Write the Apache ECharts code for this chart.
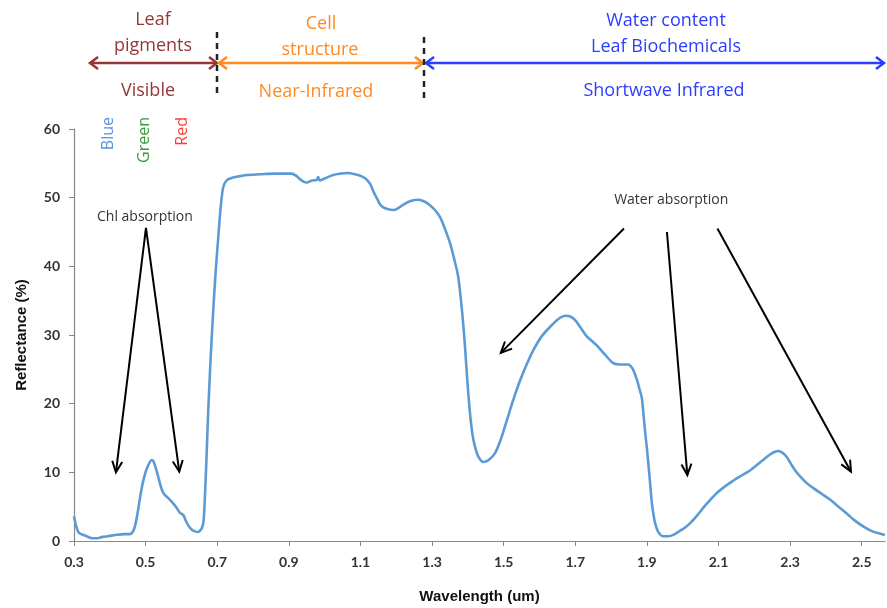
<!DOCTYPE html>
<html>
<head>
<meta charset="utf-8">
<script src="https://cdn.jsdelivr.net/npm/echarts@6/dist/echarts.min.js"></script>
<style>html,body{margin:0;padding:0;background:#fff}#c{width:887px;height:608px}</style>
</head>
<body>
<div id="c"></div>
<script>
// Wavelength (um) and reflectance (%)
var wavelengths = [0.300,0.305,0.312,0.320,0.335,0.350,0.365,0.380,0.395,0.420,0.440,0.456,0.464,0.470,0.476,0.482,0.488,0.494,0.501,0.508,0.517,0.522,0.528,0.534,0.540,0.546,0.552,0.560,0.568,0.578,0.587,0.596,0.605,0.612,0.620,0.630,0.638,0.646,0.652,0.658,0.662,0.666,0.670,0.675,0.682,0.689,0.696,0.703,0.710,0.717,0.726,0.736,0.760,0.782,0.820,0.860,0.908,0.920,0.931,0.942,0.950,0.965,0.978,0.982,0.986,1.000,1.024,1.045,1.062,1.085,1.108,1.118,1.127,1.137,1.146,1.155,1.164,1.178,1.192,1.206,1.220,1.240,1.262,1.280,1.294,1.308,1.322,1.335,1.350,1.364,1.372,1.378,1.385,1.392,1.399,1.406,1.413,1.420,1.430,1.443,1.458,1.476,1.492,1.509,1.527,1.546,1.565,1.583,1.606,1.630,1.652,1.672,1.686,1.699,1.716,1.732,1.745,1.760,1.782,1.806,1.825,1.848,1.856,1.862,1.872,1.880,1.886,1.893,1.900,1.904,1.909,1.914,1.918,1.923,1.932,1.946,1.960,1.974,1.990,2.005,2.021,2.040,2.060,2.077,2.100,2.133,2.160,2.189,2.215,2.244,2.258,2.267,2.280,2.291,2.305,2.318,2.328,2.345,2.365,2.390,2.412,2.435,2.458,2.480,2.505,2.530,2.556,2.565];
var reflectance = [3.6,2.4,1.3,1.0,0.7,0.4,0.4,0.6,0.7,0.9,1.0,1.0,1.3,2.1,3.6,5.5,7.4,8.9,10.2,11.1,11.8,11.6,10.7,9.6,8.4,7.4,6.8,6.4,6.0,5.4,4.8,4.1,3.8,3.0,2.2,1.6,1.4,1.3,1.5,2.0,3.0,6.9,12.0,19.1,27.0,33.7,39.5,44.3,48.8,51.6,52.5,52.8,53.1,53.3,53.4,53.5,53.5,53.2,52.7,52.3,52.2,52.5,52.6,53.0,52.5,52.8,53.3,53.5,53.6,53.4,53.0,52.6,52.0,50.8,49.9,49.0,48.6,48.3,48.2,48.5,49.0,49.5,49.7,49.4,48.9,48.2,47.2,45.6,43.4,40.6,38.8,36.4,32.8,28.3,23.0,18.6,15.5,13.7,12.2,11.5,11.8,12.8,14.8,17.6,20.6,23.4,25.8,27.8,29.8,31.2,32.3,32.8,32.7,32.2,31.0,29.8,29.2,28.5,27.2,25.9,25.7,25.7,25.4,24.9,23.5,22.0,20.8,17.0,13.5,11.3,8.4,5.5,4.0,2.6,1.3,0.7,0.7,0.9,1.4,1.9,2.6,3.7,5.0,6.0,7.2,8.5,9.4,10.3,11.4,12.6,13.0,13.1,12.8,12.2,11.0,10.0,9.4,8.5,7.7,6.8,6.0,5.0,4.0,3.0,2.1,1.4,1.0,0.9];
var xStart = 0.3, xEnd = 2.565, xStep = 0.2;
var yTicks = [0, 60, 10];

var chart = echarts.init(document.getElementById('c'));
var seriesData = wavelengths.map(function (w, i) { return [w - xStart, reflectance[i]]; });

chart.setOption({
  animation: false,
  grid: { left: 74, right: 2, top: 129, bottom: 67, containLabel: false, outerBoundsMode: 'none' },
  xAxis: {
    type: 'value', min: 0, max: xEnd - xStart, interval: xStep,
    name: 'Wavelength (um)', nameLocation: 'middle', nameGap: 48,
    nameTextStyle: { fontFamily: 'Liberation Sans', fontWeight: 'bold', fontSize: 15, color: '#111' },
    axisLine: { show: true, lineStyle: { color: '#888', width: 1.2 } },
    axisTick: { show: true, length: 5, lineStyle: { color: '#888' } },
    splitLine: { show: false },
    axisLabel: {
      margin: 14, fontFamily: 'Lato', fontWeight: 'bold', fontSize: 14, color: '#333',
      showMaxLabel: false,
      formatter: function (v) {
        var k = v / xStep;
        if (Math.abs(k - Math.round(k)) > 1e-6) return '';
        return (v + xStart).toFixed(1);
      }
    }
  },
  yAxis: {
    type: 'value', min: yTicks[0], max: yTicks[1], interval: yTicks[2],
    name: 'Reflectance (%)', nameLocation: 'middle', nameGap: 45, nameRotate: 90,
    nameTextStyle: { fontFamily: 'Liberation Sans', fontWeight: 'bold', fontSize: 15, color: '#111' },
    axisLine: { show: true, lineStyle: { color: '#888', width: 1.2 } },
    axisTick: { show: true, length: 5, lineStyle: { color: '#888' } },
    splitLine: { show: false },
    axisLabel: { margin: 14, fontFamily: 'Lato', fontWeight: 'bold', fontSize: 14, color: '#333' }
  },
  series: [{
    type: 'line', data: seriesData, showSymbol: false, smooth: 0.3,
    lineStyle: { color: '#5B9BD5', width: 2.6 }
  }]
});

function px(x, y) { return chart.convertToPixel({ gridIndex: 0 }, [x - xStart, y]); }

function arrowEls(p1, p2, color, width, head, hw, both) {
  var els = [{ type: 'line', shape: { x1: p1[0], y1: p1[1], x2: p2[0], y2: p2[1] }, style: { stroke: color, lineWidth: width }, z: 100 }];
  function headAt(a, b) {
    var dx = b[0] - a[0], dy = b[1] - a[1], L = Math.sqrt(dx * dx + dy * dy);
    var ux = dx / L, uy = dy / L, nx = -uy, ny = ux;
    var bx = b[0] - ux * head, by = b[1] - uy * head;
    els.push({ type: 'polyline', shape: { points: [[bx + nx * hw, by + ny * hw], [b[0], b[1]], [bx - nx * hw, by - ny * hw]] },
      style: { stroke: color, lineWidth: width, fill: null, lineJoin: 'miter' }, z: 100 });
  }
  headAt(p1, p2);
  if (both) headAt(p2, p1);
  return els;
}

function txt(x, y, s, color, size, family) {
  return { type: 'text', x: x, y: y, z: 100,
    style: { text: s, fill: color, font: size + 'px ' + (family || '"Open Sans"'), align: 'center', verticalAlign: 'middle' } };
}

var maroon = '#953735', orange = '#FF8A1F', blue = '#2B3DFF';
var els = [];
// Header region
els.push(txt(153, 20, 'Leaf', maroon, 18));
els.push(txt(153, 46, 'pigments', maroon, 18));
els.push(txt(148, 91, 'Visible', maroon, 18));
els.push(txt(321, 24, 'Cell', orange, 18));
els.push(txt(320, 50, 'structure', orange, 18));
els.push(txt(316, 92, 'Near-Infrared', orange, 18));
els.push(txt(666, 21, 'Water content', blue, 18));
els.push(txt(666, 47, 'Leaf Biochemicals', blue, 18));
els.push(txt(664, 91, 'Shortwave Infrared', blue, 18));
els = els.concat(arrowEls([90, 63], [217, 63], maroon, 2.5, 8, 6, true));
els = els.concat(arrowEls([219, 63], [423, 63], orange, 2.5, 8, 6, true));
els = els.concat(arrowEls([426, 63], [884, 63], blue, 2.5, 8, 6, true));
els.push({ type: 'line', shape: { x1: 217, y1: 32, x2: 217, y2: 95 }, style: { stroke: '#222', lineWidth: 2.5, lineDash: [6, 5] }, z: 101 });
els.push({ type: 'line', shape: { x1: 424, y1: 37, x2: 424, y2: 100 }, style: { stroke: '#222', lineWidth: 2.5, lineDash: [6, 5] }, z: 101 });

// Colour band labels (rotated)
var bandLabels = [['Blue', 0.395, '#5B8FE0'], ['Green', 0.496, '#3A9A3A'], ['Red', 0.602, '#FF3B3B']];
bandLabels.forEach(function (b) {
  var p = px(b[1], 0);
  els.push({ type: 'text', x: p[0], y: 117, rotation: Math.PI / 2, z: 100,
    style: { text: b[0], fill: b[2], font: '16px "Open Sans"', align: 'right', verticalAlign: 'middle' } });
});

// Annotations in data coordinates
var chlText = [0.498, 47.2], chlApex = [0.501, 45.6], chlTips = [[0.417, 10.0], [0.594, 10.1]];
var waterText = [1.968, 49.6];
var waterArrows = [[[1.836, 45.5], [1.492, 27.4]], [[1.956, 45.0], [2.013, 9.6]], [[2.097, 45.5], [2.47, 10.1]]];
var pt = px(chlText[0], chlText[1]);
els.push(txt(pt[0], pt[1], 'Chl absorption', '#333', 14));
chlTips.forEach(function (t) { els = els.concat(arrowEls(px(chlApex[0], chlApex[1]), px(t[0], t[1]), '#000', 2, 11, 5, false)); });
pt = px(waterText[0], waterText[1]);
els.push(txt(pt[0], pt[1], 'Water absorption', '#333', 14));
waterArrows.forEach(function (a) { els = els.concat(arrowEls(px(a[0][0], a[0][1]), px(a[1][0], a[1][1]), '#000', 2, 11, 5, false)); });

chart.setOption({ graphic: { elements: els } });
</script>
</body>
</html>
